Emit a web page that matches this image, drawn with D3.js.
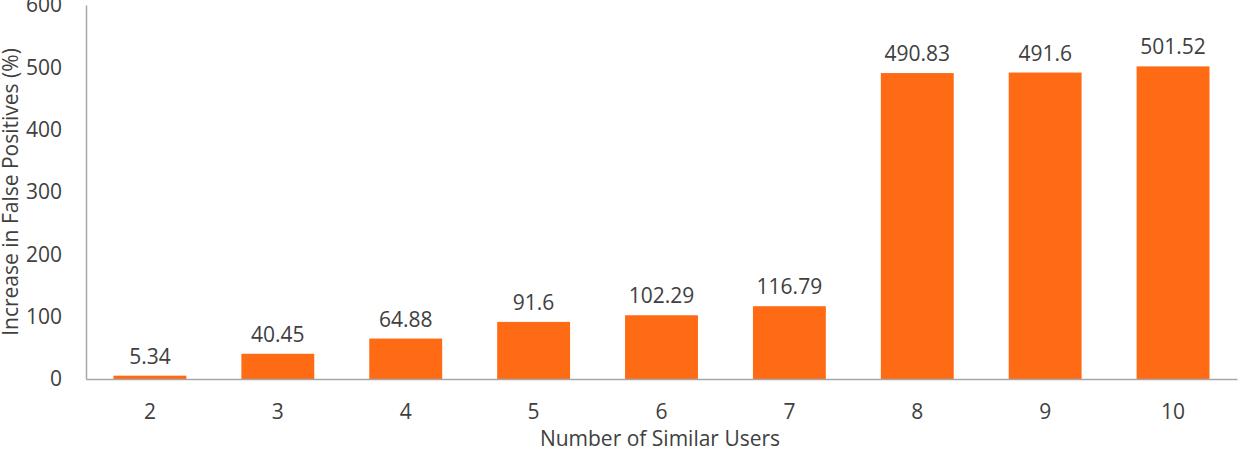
<!DOCTYPE html>
<html><head><meta charset="utf-8">
<script src="https://cdn.jsdelivr.net/npm/d3@7"></script>
<style>body{margin:0;background:#fff}svg{display:block}text{font-family:"Open Sans",sans-serif;fill:#404040}</style>
</head><body>
<script>
const categories = ["2","3","4","5","6","7","8","9","10"];
const values = [5.34, 40.45, 64.88, 91.6, 102.29, 116.79, 490.83, 491.6, 501.52];
const valueLabels = ["5.34","40.45","64.88","91.6","102.29","116.79","490.83","491.6","501.52"];
const yTicks = [0,100,200,300,400,500,600];

const W=1245,H=453, FS="21px";
const svg=d3.select("body").append("svg").attr("width",W).attr("height",H);
const x=d3.scaleBand().domain(categories).range([86,1237]).paddingInner(0.43).paddingOuter(0.215);
const y=d3.scaleLinear().domain([0,600]).range([379,5]);

svg.selectAll("rect.bar").data(values).join("rect")
  .attr("x",(d,i)=>x(categories[i])).attr("width",x.bandwidth())
  .attr("y",d=>y(d)).attr("height",d=>y(0)-y(d)).attr("fill","#FF6A14");

svg.selectAll("text.val").data(values).join("text")
  .attr("x",(d,i)=>x(categories[i])+x.bandwidth()/2).attr("y",d=>y(d)-12)
  .attr("text-anchor","middle").style("font-size",FS).text((d,i)=>valueLabels[i]);

const ya=svg.append("g").attr("transform","translate(86,0)")
  .call(d3.axisLeft(y).tickValues(yTicks).tickSize(0).tickPadding(24));
ya.select(".domain").attr("stroke","#A6A6A6").attr("stroke-width",1.5);
ya.selectAll("text").style("font-size",FS).attr("fill","#404040").attr("font-family","Open Sans");

const xa=svg.append("g").attr("transform",`translate(0,${y(0)})`)
  .call(d3.axisBottom(x).tickSize(0).tickPadding(25));
xa.select(".domain").attr("stroke","#A6A6A6").attr("stroke-width",1.5);
xa.selectAll("text").style("font-size",FS).attr("fill","#404040").attr("font-family","Open Sans");

svg.append("text").attr("x",660).attr("y",446).attr("text-anchor","middle")
  .style("font-size",FS).text("Number of Similar Users");
svg.append("text").attr("transform","translate(18,192) rotate(-90)").attr("text-anchor","middle")
  .style("font-size",FS).text("Increase in False Positives (%)");
</script>
</body></html>
